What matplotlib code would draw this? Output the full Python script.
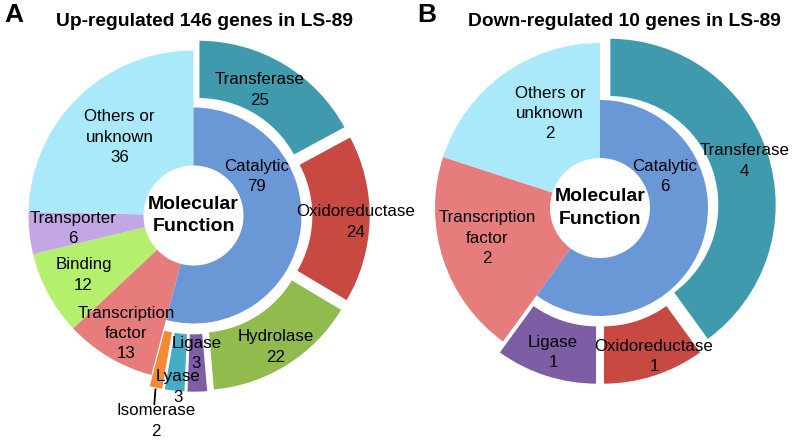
import matplotlib.pyplot as plt
import numpy as np

plt.rcParams['font.family'] = ['Liberation Sans', 'DejaVu Sans']

# up-regulated genes (catalytic sub-classes, then the other classes)
up_sub = ['Transferase', 'Oxidoreductase', 'Hydrolase', 'Ligase', 'Lyase', 'Isomerase']
up_sub_n = [25, 24, 22, 3, 3, 2]
up_other = ['Transcription\nfactor', 'Binding', 'Transporter', 'Others or\nunknown']
up_other_n = [13, 12, 6, 36]

# down-regulated genes
down_sub = ['Transferase', 'Oxidoreductase', 'Ligase']
down_sub_n = [4, 1, 1]
down_other = ['Transcription\nfactor', 'Others or\nunknown']
down_other_n = [2, 2]

colors = {
    'Transferase': '#3f9aae',
    'Oxidoreductase': '#c84842',
    'Hydrolase': '#92bb4e',
    'Ligase': '#7d5ea5',
    'Lyase': '#46acc6',
    'Isomerase': '#f48b33',
    'Catalytic': '#6a98d7',
    'Transcription\nfactor': '#e67c7c',
    'Binding': '#b4f06e',
    'Transporter': '#c3a7e5',
    'Others or\nunknown': '#a9e9f9',
}

W, H = 796, 443
R_HOLE, R_MID, R_OUT, R_NC, EXPL = 50, 108, 167, 165, 10
LAB = 12.2
LS = 1.45


def sunburst(ax, center, sub, sub_n, other, other_n, lab_sub, lab_other, cat_lab):
    n_sub = len(sub_n)
    cx, cy = center
    outer, _ = ax.pie(sub_n + other_n, colors=[colors[k] for k in sub + other],
                      startangle=90, counterclock=False, radius=R_OUT, center=center,
                      explode=[EXPL] * n_sub + [0] * len(other_n),
                      wedgeprops=dict(width=R_OUT - R_MID, linewidth=1.2, edgecolor='white'))
    for w in outer[n_sub:]:
        w.set_radius(R_NC)
        w.set_width(R_NC - R_HOLE)
        w.set_linewidth(0)
    inner, _ = ax.pie([sum(sub_n), sum(other_n)], colors=[colors['Catalytic'], 'none'],
                      startangle=90, counterclock=False, radius=R_MID, center=center,
                      wedgeprops=dict(width=R_MID - R_HOLE, linewidth=0))

    names = sub + other
    counts = sub_n + other_n
    for w, name, n, (r, dth) in zip(outer, names, counts, lab_sub + lab_other):
        mid = np.deg2rad((w.theta1 + w.theta2) / 2 + dth)
        ax.text(cx + r * np.cos(mid), cy + r * np.sin(mid), f'{name}\n{n}',
                ha='center', va='center', fontsize=LAB, linespacing=LS)
        if name == 'Isomerase':
            # leader line from the thin wedge down to its label
            a = np.deg2rad((w.theta1 + w.theta2) / 2)
            rr = np.array([178, 193])
            ax.plot(cx + rr * np.cos(a) + [0, 2], cy + rr * np.sin(a), color='black', lw=1.3)

    r, ang = cat_lab
    ax.text(cx + r * np.cos(np.deg2rad(ang)), cy + r * np.sin(np.deg2rad(ang)),
            f'Catalytic\n{sum(sub_n)}', ha='center', va='center', fontsize=LAB,
            linespacing=LS)
    ax.text(cx, cy, 'Molecular\nFunction', ha='center', va='center',
            fontsize=14, fontweight='bold', linespacing=1.4)


fig = plt.figure(figsize=(W / 100, H / 100), dpi=100)
ax = fig.add_axes([0, 0, 1, 1])

sunburst(ax, (193.5, H - 215.5), up_sub, up_sub_n, up_other, up_other_n,
         [(142, 3), (162, -1), (155, 0), (138, 0), (172, 1), (209, 2)],
         [(136, 1), (125, 0), (121, 0), (108, -1)],
         (74, 32))
sunburst(ax, (600, H - 208), down_sub, down_sub_n, down_other, down_other_n,
         [(152, 0), (158, 2), (152, 0)],
         [(117, -3), (107, -8)],
         (72, 26))

ax.text(205, H - 21, 'Up-regulated 146 genes in LS-89', ha='center', va='center',
        fontsize=13.9, fontweight='bold')
ax.text(624, H - 21, 'Down-regulated 10 genes in LS-89', ha='center', va='center',
        fontsize=13.9, fontweight='bold')
ax.text(14, H - 15, 'A', ha='center', va='center', fontsize=19, fontweight='bold')
ax.text(427, H - 15, 'B', ha='center', va='center', fontsize=19, fontweight='bold')

ax.set_xlim(0, W)
ax.set_ylim(0, H)
ax.set_aspect('equal')
ax.axis('off')

plt.savefig('out.png', dpi=100)
